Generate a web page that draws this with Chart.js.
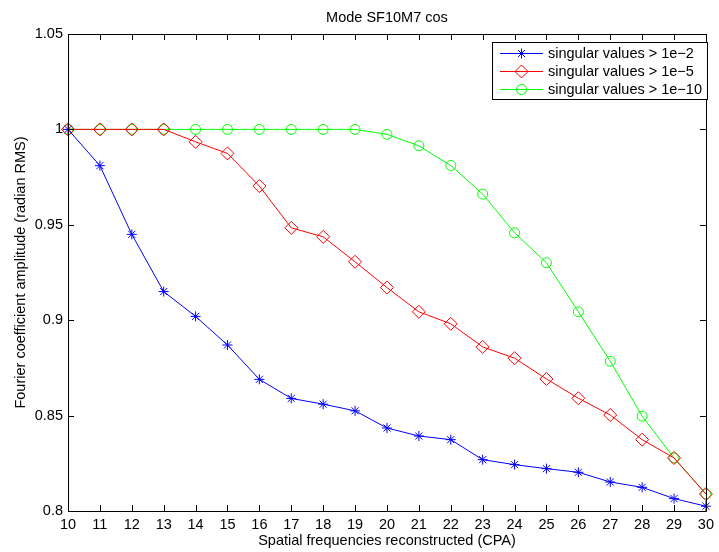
<!DOCTYPE html>
<html>
<head>
<meta charset="utf-8">
<script src="https://cdn.jsdelivr.net/npm/chart.js@4/dist/chart.umd.min.js"></script>
<style>
  html, body { margin: 0; padding: 0; background: #fff; }
  #wrap { width: 719px; height: 552px; position: relative; }
</style>
</head>
<body>
<div id="wrap"><canvas id="myChart" width="719" height="552"></canvas></div>
<script>
// data
var freqs = [10, 11, 12, 13, 14, 15, 16, 17, 18, 19, 20, 21, 22, 23, 24, 25, 26, 27, 28, 29, 30];
var sv1e2 = [1.0, 0.981, 0.945, 0.915, 0.902, 0.887, 0.869, 0.859, 0.856, 0.8525, 0.8435, 0.8393, 0.8374, 0.8269, 0.8243, 0.8222, 0.8203, 0.8152, 0.8124, 0.8065, 0.8025];
var sv1e5 = [1.0, 1.0, 1.0, 1.0, 0.9935, 0.9874, 0.9703, 0.9484, 0.9437, 0.9306, 0.9171, 0.9044, 0.8981, 0.886, 0.8801, 0.8692, 0.8591, 0.8503, 0.8374, 0.8278, 0.8089];
var sv1e10 = [1.0, 1.0, 1.0, 1.0, 1.0, 1.0, 1.0, 1.0, 1.0, 1.0, 0.9974, 0.9914, 0.9811, 0.9661, 0.9458, 0.9301, 0.9044, 0.8785, 0.8497, 0.8278, 0.8089];
var yTicks = [0.8, 0.85, 0.9, 0.95, 1, 1.05];
var yTickLabels = ['0.8', '0.85', '0.9', '0.95', '1', '1.05'];
var seriesNames = ['singular values > 1e\u22122', 'singular values > 1e\u22125', 'singular values > 1e\u221210'];

var FONT = 'Liberation Sans, Arial, Helvetica, sans-serif';

// box, inward ticks on all sides, title, legend (MATLAB look)
var matlabFrame = {
  id: 'matlabFrame',
  afterDraw: function (chart) {
    var ctx = chart.ctx;
    var a = chart.chartArea;
    var xs = chart.scales.x, ys = chart.scales.y;
    ctx.save();
    ctx.strokeStyle = '#000';
    ctx.lineWidth = 1;
    ctx.beginPath();
    ctx.rect(Math.round(a.left) + 0.5, Math.round(a.top) + 0.5, Math.round(a.right - a.left), Math.round(a.bottom - a.top));
    ctx.stroke();
    var tl = 6;
    ctx.beginPath();
    for (var i = 0; i < freqs.length; i++) {
      var px = Math.round(xs.getPixelForValue(i)) + 0.5;
      ctx.moveTo(px, a.bottom); ctx.lineTo(px, a.bottom - tl);
      ctx.moveTo(px, a.top); ctx.lineTo(px, a.top + tl);
    }
    for (var j = 0; j < yTicks.length; j++) {
      var py = Math.round(ys.getPixelForValue(yTicks[j])) + 0.5;
      ctx.moveTo(a.left, py); ctx.lineTo(a.left + tl, py);
      ctx.moveTo(a.right, py); ctx.lineTo(a.right - tl, py);
    }
    ctx.stroke();

    // title
    ctx.fillStyle = '#000';
    ctx.font = '14.5px ' + FONT;
    ctx.textAlign = 'center';
    ctx.textBaseline = 'middle';
    ctx.fillText('Mode SF10M7 cos', (a.left + a.right) / 2, 18);

    // legend
    var lx = 492, ly = 42, lw = 215, lh = 57;
    ctx.fillStyle = '#fff';
    ctx.fillRect(lx, ly, lw, lh);
    ctx.strokeStyle = '#000';
    ctx.strokeRect(lx + 0.5, ly + 0.5, lw, lh);
    ctx.font = '14.5px ' + FONT;
    ctx.textAlign = 'left';
    var rows = [53, 71, 89];
    chart.data.datasets.forEach(function (ds, k) {
      var ry = rows[k] + 0.5;
      ctx.strokeStyle = ds.borderColor;
      ctx.fillStyle = 'rgba(0,0,0,0)';
      ctx.lineWidth = 1;
      ctx.beginPath();
      ctx.moveTo(500, ry); ctx.lineTo(543, ry);
      ctx.stroke();
      Chart.helpers.drawPoint(ctx, {
        pointStyle: ds.pointStyle, radius: ds.pointRadius, borderWidth: 1, rotation: 0
      }, 521.5, ry);
      ctx.fillStyle = '#000';
      ctx.fillText(ds.label, 548, ry);
    });
    ctx.restore();
  }
};

function mkSet(name, values, color, style, r) {
  return {
    label: name,
    data: values,
    borderColor: color,
    backgroundColor: 'rgba(0,0,0,0)',
    borderWidth: 1,
    pointStyle: style,
    pointRadius: r,
    pointBorderColor: color,
    pointBackgroundColor: 'rgba(0,0,0,0)',
    pointBorderWidth: 1,
    tension: 0,
    clip: false
  };
}

new Chart(document.getElementById('myChart'), {
  type: 'line',
  data: {
    labels: freqs,
    datasets: [
      mkSet(seriesNames[0], sv1e2, '#0000ff', 'star', 5),
      mkSet(seriesNames[1], sv1e5, '#ff0000', 'rectRot', 6.5),
      mkSet(seriesNames[2], sv1e10, '#00ff00', 'circle', 5)
    ]
  },
  options: {
    responsive: false,
    animation: false,
    events: [],
    layout: { autoPadding: false, padding: { top: 34, right: 6, left: 0, bottom: 0 } },
    plugins: { legend: { display: false }, title: { display: false }, tooltip: { enabled: false } },
    scales: {
      x: {
        type: 'category',
        offset: false,
        grid: { display: false, drawTicks: false },
        border: { display: false },
        ticks: { color: '#000', font: { family: FONT, size: 14.5 }, padding: 5, maxRotation: 0, autoSkip: false },
        title: { display: true, text: 'Spatial frequencies reconstructed (CPA)', color: '#000', font: { family: FONT, size: 14.5 }, padding: { top: 0, bottom: 2 } },
        afterFit: function (s) { s.height = 41; }
      },
      y: {
        type: 'linear',
        min: 0.8,
        max: 1.05,
        grid: { display: false, drawTicks: false },
        border: { display: false },
        afterBuildTicks: function (s) { s.ticks = yTicks.map(function (v) { return { value: v }; }); },
        ticks: {
          color: '#000', font: { family: FONT, size: 14.5 }, padding: 5,
          callback: function (v, i) { return yTickLabels[i]; }
        },
        title: { display: true, text: 'Fourier coefficient amplitude (radian RMS)', color: '#000', font: { family: FONT, size: 14.5 }, padding: { top: 12, bottom: 0 } },
        afterFit: function (s) { s.width = 68; }
      }
    }
  },
  plugins: [matlabFrame]
});
</script>
</body>
</html>
